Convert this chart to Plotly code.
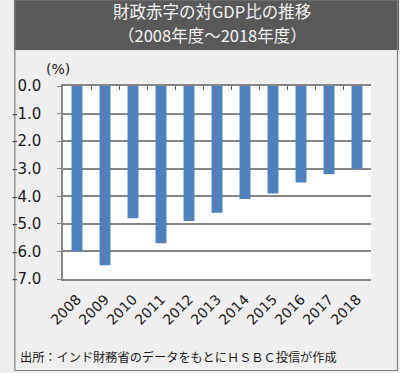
import plotly.graph_objects as go

years = ["2008", "2009", "2010", "2011", "2012", "2013", "2014", "2015", "2016", "2017", "2018"]
deficit = [-6.0, -6.5, -4.8, -5.7, -4.9, -4.6, -4.1, -3.9, -3.5, -3.2, -3.0]
y_tick_vals = [0, -1, -2, -3, -4, -5, -6, -7]
y_tick_labels = ["0.0", "-1.0", "-2.0", "-3.0", "-4.0", "-5.0", "-6.0", "-7.0"]
title_line1 = "財政赤字の対GDP比の推移"
title_line2 = "（2008年度～2018年度）"
unit_label = "(%)"
source_text = "出所：インド財務省のデータをもとにＨＳＢＣ投信が作成"

W, H = 400, 373
L, R, T, B = 51, 371, 86, 279  # plot area in pixels


def px(x):
    return (x - L) / (R - L)


def py(y):
    return (B - y) / (B - T)


GRID = "#868686"
NUM_FONT = "DejaVu Sans"
JP_FONT = "Noto Sans CJK JP"

fig = go.Figure()
fig.add_trace(go.Bar(x=years, y=deficit, marker=dict(color="#4F81BD", line=dict(width=0)),
                     xaxis="x", yaxis="y", hoverinfo="skip"))
# invisible trace to activate top axis
fig.add_trace(go.Scatter(x=[0], y=[0], xaxis="x2", yaxis="y", mode="markers",
                         marker=dict(opacity=0), showlegend=False, hoverinfo="skip"))

fig.update_layout(
    width=W, height=H,
    margin=dict(l=L, r=W - R, t=T, b=H - B, pad=0),
    paper_bgcolor="#efefef",
    plot_bgcolor="#ffffff",
    showlegend=False,
    bargap=0.61,
    font=dict(family=NUM_FONT, size=13, color="#1a1a1a"),
    xaxis=dict(type="category", showgrid=False, showline=True, linecolor=GRID, linewidth=1.5,
               ticks="", tickangle=-45, tickfont=dict(family=NUM_FONT, size=14, color="#1a1a1a"),
               ticklabelstandoff=5, range=[-0.5, 10.5], fixedrange=True),
    xaxis2=dict(overlaying="x", side="top", anchor="y", range=[-0.5, 10.5],
                tickmode="array", tickvals=[i - 0.5 for i in range(len(years) + 1)],
                ticks="inside", ticklen=4, tickwidth=1.2, tickcolor="#555555",
                showticklabels=False, showgrid=False, showline=True, linecolor=GRID, linewidth=1.5,
                zeroline=False),
    yaxis=dict(range=[-7, 0], tickmode="array", tickvals=y_tick_vals, ticktext=y_tick_labels,
               showgrid=True, gridcolor=GRID, gridwidth=1.5, zeroline=False,
               showline=True, linecolor=GRID, linewidth=1.5,
               ticks="outside", ticklen=4, tickwidth=1.2, tickcolor=GRID,
               tickfont=dict(family=NUM_FONT, size=15, color="#1a1a1a"), ticklabelstandoff=13),
)

shapes = [
    dict(type="rect", xref="paper", yref="paper", x0=px(0), x1=px(W), y0=py(50), y1=py(0),
         fillcolor="#595959", line=dict(width=0), layer="below"),
    dict(type="rect", xref="paper", yref="paper", x0=px(1), x1=px(398.5), y0=py(370.5), y1=py(0),
         fillcolor="rgba(0,0,0,0)", line=dict(width=1.2, color="#7f7f7f")),
]
fig.update_layout(shapes=shapes)

annotations = [
    dict(text=title_line1, xref="paper", yref="paper", x=px(206), y=py(11.5),
         showarrow=False, xanchor="center", yanchor="middle",
         font=dict(family=JP_FONT, size=16.5, color="#f4f4f4")),
    dict(text=title_line2, xref="paper", yref="paper", x=px(206), y=py(35.5),
         showarrow=False, xanchor="center", yanchor="middle",
         font=dict(family=JP_FONT, size=16.5, color="#f4f4f4")),
    dict(text=unit_label, xref="paper", yref="paper", x=px(46), y=py(69), showarrow=False,
         xanchor="center", yanchor="middle", font=dict(family=NUM_FONT, size=14, color="#1a1a1a")),
    dict(text=source_text, xref="paper", yref="paper", x=px(4), y=py(357), showarrow=False,
         xanchor="left", yanchor="middle", font=dict(family=JP_FONT, size=12.2, color="#1a1a1a")),
]
fig.update_layout(annotations=annotations)

fig.write_html("out.html", config={"displayModeBar": False},
               post_script="document.body.style.margin='0';")
